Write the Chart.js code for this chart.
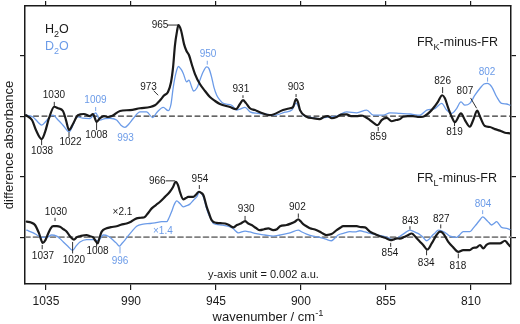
<!DOCTYPE html>
<html>
<head>
<meta charset="utf-8">
<script src="https://cdn.jsdelivr.net/npm/chart.js@4.4.1/dist/chart.umd.min.js"></script>
<style>
  html, body { margin: 0; background: #fff; }
  canvas { display: block; }
</style>
</head>
<body>
<canvas id="spectra" width="520" height="324"></canvas>
<script>
/* FRK / FRL minus FR difference spectra, H2O vs D2O */

// ── Data (y in units of 0.001 a.u., each panel relative to its own zero) ──────
const xTicks = [1035, 990, 945, 900, 855, 810];
const yTicks = [0, 2, 4, 6];
const panelOffsets = { frk: 4, frl: 0 };

const frkH2O_wn = [1045.6, 1042.4, 1040.3, 1037.3, 1035.5, 1033.4, 1030.6, 1028.6, 1026.0, 1024.4,
  1022.8, 1020.7, 1018.1, 1014.9, 1011.7, 1010.1, 1008.2, 1006.4, 1004.3, 1002.2,
  1000.1, 995.8, 990.5, 985.2, 979.9, 977.3, 975.7, 974.1, 972.5, 970.4,
  968.8, 967.7, 966.7, 965.6, 964.9, 963.5, 961.9, 960.6, 959.3, 957.7,
  956.1, 953.5, 950.8, 948.2, 945.5, 942.9, 937.6, 934.4, 932.3, 930.7,
  929.1, 927.0, 924.4, 921.7, 916.4, 909.5, 905.8, 904.2, 902.6, 901.6,
  900.5, 897.0, 893.6, 890.1, 887.9, 885.8, 883.7, 881.1, 878.8, 875.8,
  873.5, 870.5, 868.2, 866.1, 863.5, 861.4, 859.4, 857.3, 854.6, 852.0,
  849.7, 847.6, 846.0, 843.4, 840.7, 838.1, 835.4, 831.7, 829.1, 827.5,
  825.2, 823.8, 822.2, 820.2, 818.5, 815.3, 813.2, 810.6, 808.8, 806.7,
  805.2, 802.6, 800.0, 797.3, 794.7, 792.0, 789.4];
const frkH2O = [0.03, -0.13, -0.46, -0.76, -0.53, -0.07, 0.31, 0.26, 0.17, -0.13,
  -0.46, -0.26, 0.03, 0.07, 0, 0.07, -0.19, -0.07, 0, -0.03,
  0, 0.17, 0.20, 0.26, 0.30, 0.36, 0.45, 0.56, 0.68, 0.80,
  1.12, 1.62, 2.35, 2.81, 3.01, 2.84, 2.38, 2.15, 2.02, 1.69,
  1.39, 1.06, 0.83, 0.63, 0.50, 0.40, 0.30, 0.23, 0.40, 0.53,
  0.43, 0.26, 0.20, 0.13, 0.03, 0.20, 0.26, 0.30, 0.56, 0.46,
  0.20, -0.02, -0.07, -0.10, -0.03, 0, -0.07, -0.03, 0.05, 0.06,
  0, 0, 0.02, -0.02, -0.13, -0.23, -0.30, -0.13, -0.06, -0.17,
  -0.13, -0.10, -0.02, 0, 0, -0.03, -0.02, 0.14, 0.33, 0.47,
  0.69, 0.59, 0.30, -0.02, -0.20, 0.09, -0.13, -0.35, -0.13, 0.18,
  -0.02, -0.33, -0.36, -0.43, -0.48, -0.55, -0.57];

const frkD2O_wn = [1045.6, 1041.9, 1039.2, 1037.3, 1035.0, 1032.9, 1031.3, 1028.6, 1026.0, 1022.7,
  1020.7, 1018.7, 1015.4, 1011.7, 1008.7, 1006.4, 1003.8, 1001.1, 997.6, 995.3,
  993.2, 991.1, 988.8, 985.2, 981.7, 978.5, 976.2, 972.9, 970.3, 968.8,
  967.6, 966.2, 964.9, 963.5, 962.3, 960.5, 959.3, 958.0, 956.9, 955.1,
  953.5, 951.9, 949.9, 948.7, 947.3, 946.1, 944.6, 942.9, 941.1, 936.7,
  934.0, 932.3, 929.6, 927.0, 922.6, 919.1, 913.8, 908.5, 904.8, 902.6,
  900.5, 898.8, 895.2, 890.1, 885.8, 881.1, 875.8, 870.5, 865.2, 861.7,
  856.4, 852.9, 847.6, 842.3, 837.0, 833.4, 829.1, 825.5, 822.9, 820.2,
  817.6, 815.3, 813.2, 810.6, 807.9, 805.2, 803.1, 801.3, 799.0, 796.4,
  793.8, 791.1, 789.4];
const frkD2O = [0.03, -0.03, -0.20, -0.30, -0.17, -0.02, 0.03, -0.13, -0.30, -0.52,
  -0.30, -0.02, -0.07, -0.08, 0.11, -0.13, -0.08, -0.07, -0.13, -0.30,
  -0.37, -0.26, -0.08, 0.14, 0.14, -0.05, 0.13, 0.29, 0.18, 0.40,
  0.96, 1.42, 1.64, 1.55, 1.41, 1.13, 1.19, 0.99, 0.83, 0.93,
  1.19, 1.45, 1.63, 1.57, 1.29, 0.96, 0.69, 0.53, 0.42, 0.36,
  0.20, 0.23, 0.29, 0.14, 0.09, 0.07, 0.03, 0.13, 0.20, 0.43,
  0.20, 0.03, -0.03, -0.08, -0.03, 0, 0.14, 0.11, 0.20, 0.03,
  0.03, 0.11, 0.09, 0.07, 0.03, 0.20, 0.25, 0.42, 0.20, 0.09,
  0.25, 0.47, 0.36, 0.42, 0.69, 0.92, 1.06, 1.08, 0.97, 0.64,
  0.42, 0.40, 0.36];

const frlH2O_wn = [1045.2, 1042.9, 1040.8, 1038.7, 1036.7, 1035.3, 1033.8, 1032.4, 1031.1, 1029.2,
  1027.6, 1025.7, 1024.0, 1022.3, 1020.2, 1018.6, 1017.0, 1013.5, 1011.7, 1010.0,
  1008.8, 1007.6, 1006.7, 1005.5, 1002.9, 1000.6, 997.6, 995.3, 992.3, 990.0,
  987.0, 984.7, 982.6, 981.0, 979.0, 976.8, 974.6, 972.0, 969.4, 967.8,
  966.3, 965.1, 964.1, 962.3, 960.9, 959.7, 957.0, 955.6, 954.0, 953.0,
  951.7, 949.9, 948.7, 947.3, 944.6, 942.4, 940.2, 938.1, 935.8, 933.9,
  931.8, 929.6, 928.1, 926.1, 923.8, 921.7, 919.6, 917.3, 914.7, 912.7,
  911.1, 907.6, 905.3, 903.2, 901.4, 900.3, 898.8, 897.1, 895.2, 892.6,
  890.0, 888.4, 886.4, 883.8, 881.1, 879.4, 877.6, 874.1, 870.5, 868.2,
  866.1, 863.5, 860.8, 858.2, 855.5, 852.5, 851.0, 849.3, 847.6, 845.5,
  843.2, 841.4, 838.7, 837.0, 835.3, 833.1, 830.8, 828.2, 826.4, 824.7,
  822.0, 819.4, 816.7, 814.1, 810.6, 809.0, 807.0, 805.2, 803.5, 801.8,
  800.0, 797.3, 794.7, 792.0, 790.7, 789.4];
const frlH2O = [0.51, 0.48, 0.40, 0.13, -0.19, -0.10, 0.12, 0.30, 0.36, 0.36,
  0.34, 0.26, 0.18, 0.03, -0.08, 0, 0.03, 0.07, 0.03, -0.01,
  -0.12, -0.21, -0.03, 0.18, 0.29, 0.33, 0.36, 0.41, 0.45, 0.51,
  0.62, 0.64, 0.67, 0.79, 0.95, 1.06, 1.17, 1.33, 1.50, 1.65,
  1.83, 1.72, 1.50, 1.25, 1.29, 1.33, 1.33, 1.40, 1.50, 1.47,
  1.39, 1.00, 0.79, 0.56, 0.47, 0.46, 0.45, 0.40, 0.32, 0.40,
  0.45, 0.53, 0.46, 0.40, 0.30, 0.23, 0.26, 0.29, 0.23, 0.26,
  0.36, 0.40, 0.45, 0.51, 0.59, 0.53, 0.43, 0.36, 0.29, 0.25,
  0.18, 0.12, 0.07, 0.10, 0.23, 0.30, 0.36, 0.36, 0.36, 0.33,
  0.32, 0.18, 0.10, 0.03, -0.02, -0.10, -0.08, -0.04, -0.05, 0,
  0.07, 0.12, -0.04, -0.15, -0.26, -0.41, -0.21, 0.07, 0.18, 0.12,
  -0.16, -0.34, -0.49, -0.43, -0.43, -0.36, -0.34, -0.26, -0.37, -0.26,
  -0.21, -0.21, -0.21, -0.12, -0.20, -0.30];

const frlD2O_wn = [1045.2, 1041.7, 1039.8, 1037.3, 1034.6, 1032.0, 1029.3, 1027.6, 1025.8, 1023.4,
  1020.9, 1019.1, 1017.0, 1013.5, 1010.0, 1007.3, 1004.7, 1002.0, 999.4, 997.7,
  996.2, 994.8, 993.2, 991.6, 989.6, 987.0, 983.5, 979.9, 977.3, 973.7,
  971.1, 969.9, 968.5, 967.2, 965.8, 964.1, 962.3, 960.6, 958.8, 956.9,
  955.2, 953.7, 952.7, 951.7, 950.3, 949.1, 947.6, 946.4, 942.0, 936.7,
  935.0, 933.2, 929.6, 927.0, 924.4, 919.1, 914.7, 911.1, 905.8, 901.4,
  899.5, 897.0, 893.6, 890.0, 886.8, 883.8, 882.0, 880.3, 877.2, 874.1,
  871.4, 868.8, 866.1, 863.5, 859.8, 856.4, 853.9, 851.1, 849.4, 847.6,
  844.9, 842.3, 840.7, 838.7, 837.0, 835.3, 833.4, 832.2, 830.8, 829.1,
  827.3, 824.7, 823.0, 821.1, 817.6, 815.9, 814.1, 810.6, 809.0, 807.4,
  805.5, 803.8, 801.7, 800.5, 799.0, 797.8, 796.4, 795.2, 793.8, 791.1,
  789.4];
const frlD2O = [0.23, 0.14, 0.07, -0.01, -0.01, 0.07, 0.03, -0.05, -0.16, -0.30,
  -0.44, -0.30, -0.16, -0.08, -0.08, -0.12, 0.07, 0.03, -0.10, -0.20,
  -0.30, -0.21, -0.10, 0.03, 0.18, 0.36, 0.43, 0.45, 0.47, 0.51,
  0.51, 0.63, 0.84, 1.06, 1.20, 1.11, 1.00, 1.04, 1.09, 1.22,
  1.33, 1.49, 1.45, 1.33, 1.02, 0.78, 0.60, 0.45, 0.40, 0.32,
  0.23, 0.14, 0.20, 0.17, 0.12, 0.07, 0.03, 0.07, 0.14, 0.23,
  0.17, 0.10, 0.03, -0.01, -0.07, -0.12, -0.03, 0.07, 0.13, 0.18,
  0.17, 0.21, 0.17, 0.12, 0.07, 0.03, -0.02, -0.08, -0.05, 0.03,
  0.14, 0.23, 0.20, 0.14, 0.08, -0.01, -0.12, -0.07, 0.03, 0.13,
  0.23, 0.18, 0.12, 0.03, -0.01, 0.08, 0.18, 0.18, 0.28, 0.40,
  0.55, 0.67, 0.56, 0.48, 0.40, 0.45, 0.51, 0.43, 0.32, 0.29,
  0.25];

// peak labels: text, colour, label centre [wn, y], leader [wn1, y1, wn2, y2] (absolute y)
const peakLabels = [
  ['1030', 'k', 1030.8, 4.69, [1030.6, 4.47, 1030.6, 4.33]],
  ['1038', 'k', 1037.1, 2.84, [1037.3, 3.21, 1037.3, 3.04]],
  ['1022', 'k', 1022.0, 3.12, [1022.8, 3.47, 1022.8, 3.31]],
  ['1008', 'k', 1008.3, 3.37, [1008.2, 3.80, 1008.2, 3.54]],
  ['1009', 'b', 1008.8, 4.53, [1008.7, 4.30, 1008.7, 4.17]],
  ['993',  'b', 992.9, 3.27, null],
  ['973',  'k', 980.7, 4.96, [978.0, 4.84, 975.6, 4.69]],
  ['965',  'k', 974.6, 6.99, [970.7, 7.01, 965.1, 7.01]],
  ['950',  'b', 949.2, 6.05, [949.6, 5.83, 949.6, 5.70]],
  ['931',  'k', 931.8, 4.88, [930.7, 4.69, 930.7, 4.60]],
  ['903',  'k', 902.6, 4.94, [902.6, 4.73, 902.6, 4.63]],
  ['859',  'k', 859.0, 3.31, [859.1, 3.64, 859.1, 3.50]],
  ['826',  'k', 825.0, 5.14, [825.0, 4.96, 825.0, 4.76]],
  ['807',  'k', 813.2, 4.83, [810.2, 4.60, 807.0, 4.26]],
  ['819',  'k', 818.7, 3.45, [818.7, 3.80, 818.7, 3.67]],
  ['802',  'b', 801.5, 5.45, [801.2, 5.28, 801.2, 5.14]],
  ['1030', 'k', 1029.7, 0.83, [1030.2, 0.64, 1030.2, 0.53]],
  ['1037', 'k', 1036.6, -0.63, [1037.0, -0.26, 1037.0, -0.40]],
  ['1020', 'k', 1020.2, -0.76, [1020.9, -0.16, 1020.9, -0.54]],
  ['1008', 'k', 1007.7, -0.46, [1008.2, -0.20, 1008.2, -0.32]],
  ['996',  'b', 995.8, -0.79, [995.8, -0.32, 995.8, -0.54]],
  ['×2.1', 'k', 994.5, 0.81, null],
  ['×1.4', 'b', 973.1, 0.20, null],
  ['966',  'k', 976.1, 1.85, [971.6, 1.86, 966.7, 1.86]],
  ['954',  'k', 953.5, 1.92, [953.8, 1.72, 953.8, 1.59]],
  ['930',  'k', 929.0, 0.93, [929.6, 0.70, 929.6, 0.56]],
  ['902',  'k', 901.9, 0.98, [901.4, 0.78, 901.4, 0.64]],
  ['854',  'k', 852.9, -0.55, [852.5, -0.19, 852.5, -0.32]],
  ['843',  'k', 842.1, 0.53, [842.3, 0.36, 842.3, 0.25]],
  ['827',  'k', 825.7, 0.58, [826.0, 0.42, 826.0, 0.29]],
  ['834',  'k', 833.7, -0.86, [833.5, -0.43, 833.5, -0.60]],
  ['818',  'k', 816.9, -0.97, [816.7, -0.54, 816.7, -0.70]],
  ['804',  'b', 803.6, 1.07, [803.8, 0.89, 803.8, 0.76]]
];

// ── Style ─────────────────────────────────────────────────────────────────────
const FONT = "'Liberation Sans', Arial, Helvetica, sans-serif";
const INK  = '#1a1a1a';
const BLUE = '#6b9be8';
const X_MIN = 788.8, X_MAX = 1046.1;
const Y_MIN = -1.55, Y_MAX = 7.64;

const toPoints = (wn, vals, off) => wn.map((w, i) => ({ x: w, y: vals[i] + off }));
const zeroLine = off => [{ x: X_MAX, y: off }, { x: X_MIN, y: off }];

const lineStyle = (color, width) => ({
  borderColor: color, borderWidth: width, pointRadius: 0,
  cubicInterpolationMode: 'monotone', borderJoinStyle: 'round', borderCapStyle: 'round',
  fill: false, xAxisID: 'x', yAxisID: 'y'
});

// draws a run of [text, kind] pieces, kind: 0 normal, -1 subscript, 1 superscript
function richText(ctx, parts, x, y, size, align) {
  const widths = parts.map(([t, k]) => {
    ctx.font = `${k ? size * 0.72 : size}px ${FONT}`;
    return ctx.measureText(t).width;
  });
  const total = widths.reduce((a, b) => a + b, 0);
  let cx = align === 'center' ? x - total / 2 : align === 'right' ? x - total : x;
  ctx.textAlign = 'left';
  ctx.textBaseline = 'alphabetic';
  parts.forEach(([t, k], i) => {
    ctx.font = `${k ? size * 0.72 : size}px ${FONT}`;
    const dy = k === -1 ? size * 0.3 : k === 1 ? -size * 0.42 : 0;
    ctx.fillText(t, cx, y + dy);
    cx += widths[i];
  });
}

const textLayer = {
  id: 'textLayer',
  afterDatasetsDraw(chart) {
    const { ctx, scales: { x, y } } = chart;
    const px = w => x.getPixelForValue(w);
    const py = v => y.getPixelForValue(v);
    ctx.save();

    // peak labels and leader ticks
    ctx.lineWidth = 0.9;
    peakLabels.forEach(([t, c, lx, ly, lead]) => {
      const col = c === 'b' ? BLUE : INK;
      ctx.fillStyle = col; ctx.strokeStyle = col;
      ctx.font = `10px ${FONT}`;
      ctx.textAlign = 'center'; ctx.textBaseline = 'middle';
      ctx.fillText(t, px(lx), py(ly));
      if (lead) {
        ctx.beginPath();
        ctx.moveTo(px(lead[0]), py(lead[1]));
        ctx.lineTo(px(lead[2]), py(lead[3]));
        ctx.stroke();
      }
    });

    // legend and panel titles
    ctx.fillStyle = INK;
    richText(ctx, [['H', 0], ['2', -1], ['O', 0]], px(1035.5), py(6.74), 12.5, 'left');
    ctx.fillStyle = BLUE;
    richText(ctx, [['D', 0], ['2', -1], ['O', 0]], px(1035.5), py(6.18), 12.5, 'left');
    ctx.fillStyle = INK;
    richText(ctx, [['FR', 0], ['K', -1], ['-minus-FR', 0]], px(838.6), py(6.31), 12.5, 'left');
    richText(ctx, [['FR', 0], ['L', -1], ['-minus-FR', 0]], px(838.6), py(1.82), 12.5, 'left');
    ctx.font = `11px ${FONT}`;
    ctx.textAlign = 'center'; ctx.textBaseline = 'middle';
    ctx.fillText('y-axis unit = 0.002 a.u.', px(919.9), py(-1.26));

    // axis titles
    const area = chart.chartArea;
    richText(ctx, [['wavenumber / cm', 0], ['-1', 1]], (area.left + area.right) / 2, 321, 13, 'center');
    ctx.translate(12.5, (area.top + area.bottom) / 2);
    ctx.rotate(-Math.PI / 2);
    ctx.font = `13px ${FONT}`;
    ctx.textAlign = 'center'; ctx.textBaseline = 'alphabetic';
    ctx.fillText('difference absorbance', 0, 0);
    ctx.restore();
  }
};

const frameAxis = (extra) => Object.assign({
  grid: { drawOnChartArea: false, drawTicks: true, tickLength: 5, color: INK, lineWidth: 1.2 },
  border: { display: true, color: INK, width: 1.5 }
}, extra);

// ── Chart ─────────────────────────────────────────────────────────────────────
new Chart(document.getElementById('spectra'), {
  type: 'line',
  data: {
    datasets: [
      { label: 'FRK H2O', data: toPoints(frkH2O_wn, frkH2O, panelOffsets.frk), ...lineStyle(INK, 2.2) },
      { label: 'FRL H2O', data: toPoints(frlH2O_wn, frlH2O, panelOffsets.frl), ...lineStyle(INK, 2.2) },
      { label: 'FRK D2O', data: toPoints(frkD2O_wn, frkD2O, panelOffsets.frk), ...lineStyle(BLUE, 1.3) },
      { label: 'FRL D2O', data: toPoints(frlD2O_wn, frlD2O, panelOffsets.frl), ...lineStyle(BLUE, 1.3) },
      { label: 'zero K', data: zeroLine(panelOffsets.frk), ...lineStyle('#333', 1.2), borderDash: [5, 3.5] },
      { label: 'zero L', data: zeroLine(panelOffsets.frl), ...lineStyle('#808080', 1.8), borderDash: [5, 3.5] }
    ]
  },
  options: {
    responsive: false, animation: false, devicePixelRatio: 1,
    layout: { padding: 0 },
    plugins: { legend: { display: false }, tooltip: { enabled: false } },
    scales: {
      x: frameAxis({
        type: 'linear', position: 'bottom', reverse: true, min: X_MIN, max: X_MAX,
        afterBuildTicks: s => { s.ticks = xTicks.map(v => ({ value: v })); },
        afterFit: s => { s.height = 40; },
        grid: { drawOnChartArea: false, tickLength: 6, color: INK, lineWidth: 1.2 },
        ticks: { color: INK, font: { family: FONT, size: 12 }, padding: 4, autoSkip: false, maxRotation: 0, callback: v => String(v) }
      }),
      x2: frameAxis({
        type: 'linear', position: 'top', reverse: true, min: X_MIN, max: X_MAX,
        afterBuildTicks: s => { s.ticks = xTicks.map(v => ({ value: v })); },
        afterFit: s => { s.height = 6; },
        ticks: { display: false }
      }),
      y: frameAxis({
        type: 'linear', position: 'left', min: Y_MIN, max: Y_MAX,
        afterBuildTicks: s => { s.ticks = yTicks.map(v => ({ value: v })); },
        afterFit: s => { s.width = 25; },
        ticks: { display: false }
      }),
      y2: frameAxis({
        type: 'linear', position: 'right', min: Y_MIN, max: Y_MAX,
        afterBuildTicks: s => { s.ticks = yTicks.map(v => ({ value: v })); },
        afterFit: s => { s.width = 9; },
        ticks: { display: false }
      })
    }
  },
  plugins: [textLayer]
});
</script>
</body>
</html>
